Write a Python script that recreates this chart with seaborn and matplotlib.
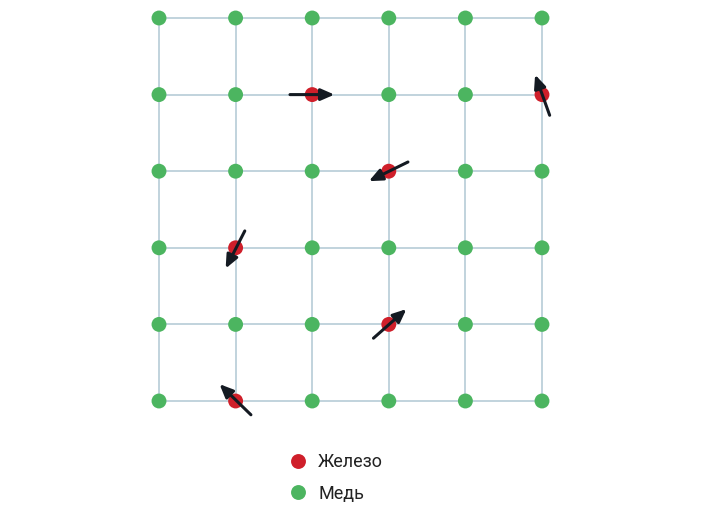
import numpy as np
import pandas as pd
import matplotlib
matplotlib.use("Agg")
import matplotlib.pyplot as plt
import seaborn as sns

n = 6
iron_cols = [2, 5, 3, 1, 3, 1]
iron_rows = [1, 1, 2, 3, 4, 5]
# spin arrows: tail and head offsets in grid units (y down)
tail_dx = [-0.29, 0.10, 0.25, 0.12, -0.20, 0.20]
tail_dy = [0.00, 0.27, -0.12, -0.22, 0.18, 0.18]
head_dx = [0.29, -0.09, -0.26, -0.13, 0.23, -0.21]
head_dy = [0.00, -0.26, 0.13, 0.27, -0.20, -0.22]

GREEN = "#4cb560"
RED = "#cf1f2a"
LINE = "#bcd0da"

rows, cols = np.meshgrid(range(n), range(n), indexing="ij")
df = pd.DataFrame({"col": cols.ravel(), "row": rows.ravel()})
iron = set(zip(iron_rows, iron_cols))
df["metal"] = ["Железо" if (r, c) in iron else "Медь" for r, c in zip(df.row, df.col)]

sns.set_style("white")
plt.rcParams["font.family"] = ["Roboto", "DejaVu Sans"]
fig = plt.figure(figsize=(7.03, 5.09), dpi=100)
ax = fig.add_axes([0, 0, 1, 1])
sp = 76.6
ax.set_xlim(-159 / sp, (703 - 159) / sp)
ax.set_ylim((509 - 18) / sp, -18 / sp)
ax.axis("off")

for i in range(n):
    ax.plot([0, n - 1], [i, i], color=LINE, lw=1.3, zorder=1)
    ax.plot([i, i], [0, n - 1], color=LINE, lw=1.3, zorder=1)

sns.scatterplot(data=df, x="col", y="row", hue="metal",
                hue_order=["Железо", "Медь"], palette={"Железо": RED, "Медь": GREEN},
                s=115, linewidth=0, ax=ax, zorder=2)

for c, r, tx, ty, hx, hy in zip(iron_cols, iron_rows, tail_dx, tail_dy, head_dx, head_dy):
    ax.annotate("", xy=(c + hx, r + hy), xytext=(c + tx, r + ty),
                arrowprops=dict(arrowstyle="-|>,head_length=0.8,head_width=0.35",
                                color="#141a22", lw=2.2, shrinkA=0, shrinkB=0),
                zorder=3)

leg = ax.legend(loc="upper left", bbox_to_anchor=(264 / 703, 1 - 437 / 509),
                frameon=False, fontsize=13, handletextpad=0.1, labelspacing=0.75,
                markerscale=1.0)
for t in leg.get_texts():
    t.set_color("#222222")

fig.savefig("out.png", dpi=100)
